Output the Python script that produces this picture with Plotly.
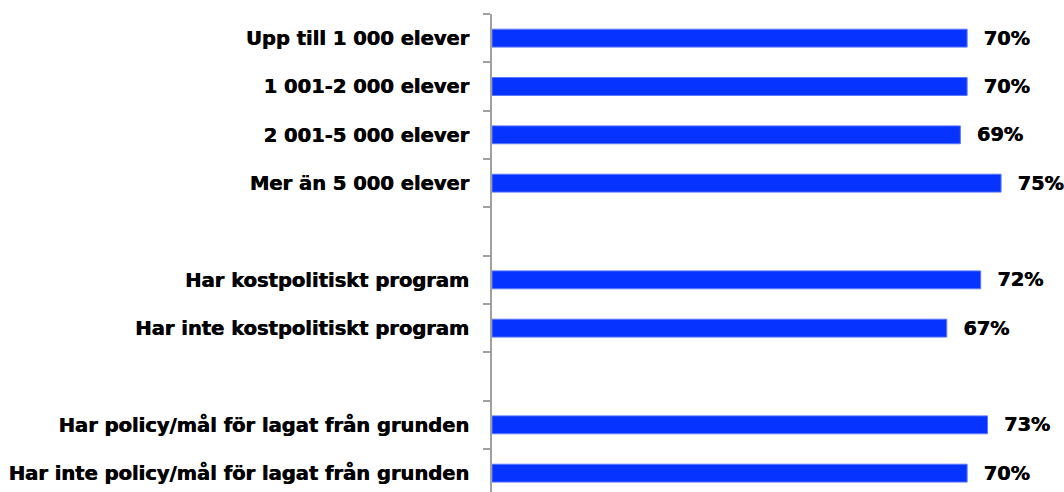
import plotly.graph_objects as go

categories = [
    "Upp till 1 000 elever",
    "1 001-2 000 elever",
    "2 001-5 000 elever",
    "Mer än 5 000 elever",
    " ",
    "Har kostpolitiskt program",
    "Har inte kostpolitiskt program",
    "  ",
    "Har policy/mål för lagat från grunden",
    "Har inte policy/mål för lagat från grunden",
]
values = [70, 70, 69, 75, None, 72, 67, None, 73, 70]
labels = ["\u00a0\u00a0%d%%" % v if v is not None else "" for v in values]

FONT = "DejaVu Sans"
SHADOW = "0.6px 0 0 black"

fig = go.Figure(
    go.Bar(
        x=values,
        y=categories,
        orientation="h",
        width=0.37,
        marker=dict(color="#0633FF", line=dict(color="#5A78FF", width=1)),
        text=labels,
        textposition="outside",
        constraintext="none",
        textfont=dict(family=FONT, size=19.3, color="black", weight="bold", shadow=SHADOW),
        cliponaxis=False,
        hoverinfo="skip",
    )
)

fig.update_layout(
    width=1064,
    height=492,
    margin=dict(l=492, r=29, t=14, b=0),
    paper_bgcolor="white",
    plot_bgcolor="white",
    showlegend=False,
)
fig.update_xaxes(
    range=[0, 80],
    visible=False,
    showgrid=False,
    zeroline=False,
)
fig.update_yaxes(
    type="category",
    categoryorder="array",
    categoryarray=categories,
    range=[9.39, -0.5],
    showline=True,
    linecolor="#A0A0A0",
    linewidth=2,
    ticks="outside",
    tickson="boundaries",
    ticklen=7,
    tickwidth=2,
    tickcolor="#A0A0A0",
    ticklabelstandoff=17,
    showgrid=False,
    zeroline=False,
    automargin=False,
    tickfont=dict(family=FONT, size=19.5, color="black", weight="bold", shadow=SHADOW),
)

fig.write_html(
    "out.html",
    config={"displayModeBar": False},
    post_script="document.body.style.margin='0';",
)
